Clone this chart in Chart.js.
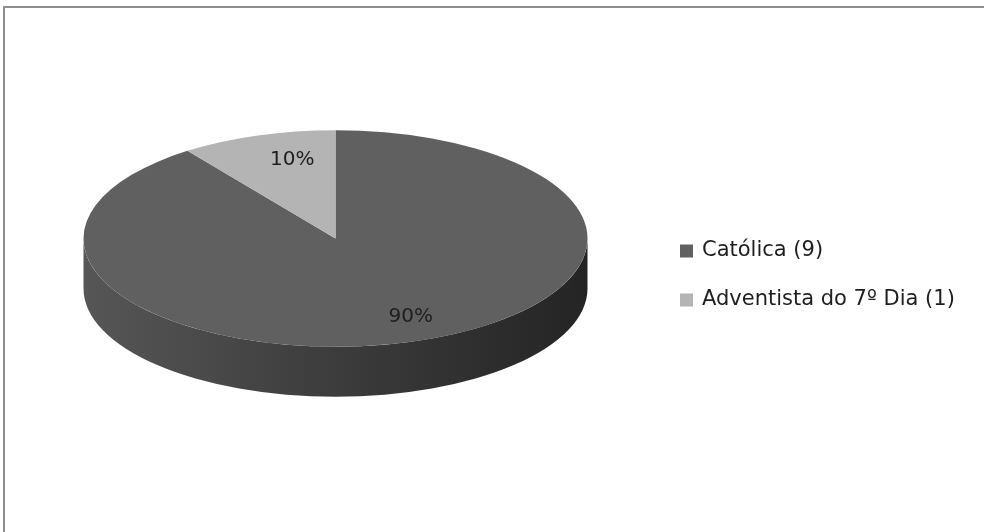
<!DOCTYPE html>
<html>
<head>
<meta charset="utf-8">
<script src="https://cdn.jsdelivr.net/npm/chart.js@4.4.1/dist/chart.umd.min.js"></script>
<style>
  html, body { margin: 0; padding: 0; background: #fff; overflow: hidden; }
  #wrap { position: relative; width: 984px; height: 532px; }
  #frame { position: absolute; left: 3px; top: 6px; width: 1100px; height: 700px; border: 2px solid #8e8e8e; box-sizing: border-box; }
  canvas { position: absolute; left: 0; top: 0; }
</style>
</head>
<body>
<div id="wrap">
  <div id="frame"></div>
  <canvas id="religionChart" width="984" height="532"></canvas>
</div>
<script>
        const categories = ['Católica', 'Adventista do 7º Dia'];
        const counts = [9, 1];
        const sliceColors = ['#606060', '#b4b4b4'];

        const total = counts.reduce((a, b) => a + b, 0);
        const legendLabels = categories.map((c, i) => `${c} (${counts[i]})`);
        const percentLabels = counts.map(v => Math.round(v / total * 100) + '%');

        // look of the fake 3d pie
        const tilt = 0.43;      // vertical squash of the top face
        const depth = 50;       // height of the side wall
        const labelShiftX = 16; // excel's perspective pushes labels a bit right
        const textColor = '#1e1e1e';

        function shade(hex, f) {
            const n = parseInt(hex.slice(1), 16);
            const r = Math.round(((n >> 16) & 255) * f);
            const g = Math.round(((n >> 8) & 255) * f);
            const b = Math.round((n & 255) * f);
            return `rgb(${r},${g},${b})`;
        }

        const pie3d = {
            id: 'pie3d',
            beforeDatasetsDraw(chart) {
                const ctx = chart.ctx;
                const arcs = chart.getDatasetMeta(0).data;
                const { x, y, outerRadius } = arcs[0];
                const ry = outerRadius * tilt;
                arcs.forEach((arc, i) => {
                    for (let k = -1; k <= 1; k++) {
                        const a = Math.max(arc.startAngle, 2 * Math.PI * k);
                        const b = Math.min(arc.endAngle, 2 * Math.PI * k + Math.PI);
                        if (b <= a) continue;
                        const grad = ctx.createLinearGradient(x - outerRadius, 0, x + outerRadius, 0);
                        grad.addColorStop(0, shade(sliceColors[i], 0.9));
                        grad.addColorStop(0.5, shade(sliceColors[i], 0.63));
                        grad.addColorStop(1, shade(sliceColors[i], 0.37));
                        ctx.fillStyle = grad;
                        ctx.beginPath();
                        ctx.ellipse(x, y, outerRadius, ry, 0, a, b);
                        ctx.ellipse(x, y + depth, outerRadius, ry, 0, b, a, true);
                        ctx.closePath();
                        ctx.fill();
                    }
                });
                // squash the flat pie into the top face
                ctx.save();
                ctx.translate(x, y);
                ctx.scale(1, tilt);
                ctx.translate(-x, -y);
            },
            afterDatasetsDraw(chart) {
                const ctx = chart.ctx;
                ctx.restore();
                const arcs = chart.getDatasetMeta(0).data;
                ctx.save();
                ctx.font = '20px "DejaVu Sans"';
                ctx.fillStyle = textColor;
                ctx.textAlign = 'center';
                ctx.textBaseline = 'middle';
                arcs.forEach((arc, i) => {
                    const mid = (arc.startAngle + arc.endAngle) / 2;
                    const r = arc.outerRadius * 0.76;
                    const lx = arc.x + Math.cos(mid) * r + labelShiftX;
                    const ly = arc.y + Math.sin(mid) * r * tilt;
                    ctx.fillText(percentLabels[i], lx, ly);
                });
                ctx.restore();
            },
            afterDraw(chart) {
                // legend on the right
                const ctx = chart.ctx;
                const left = 680, top = 251, rowGap = 49, box = 13;
                ctx.save();
                ctx.font = '21px "DejaVu Sans"';
                ctx.textBaseline = 'middle';
                legendLabels.forEach((label, i) => {
                    const cy = top + i * rowGap;
                    ctx.fillStyle = sliceColors[i];
                    ctx.fillRect(left, cy - box / 2, box, box);
                    ctx.fillStyle = textColor;
                    ctx.fillText(label, left + 22, cy);
                });
                ctx.restore();
            }
        };

        new Chart(document.getElementById('religionChart'), {
            type: 'pie',
            data: {
                labels: legendLabels,
                datasets: [{
                    data: counts,
                    backgroundColor: sliceColors,
                    borderWidth: 0,
                    radius: 252,
                    clip: false
                }]
            },
            options: {
                responsive: false,
                animation: false,
                layout: {
                    padding: { left: 0, right: 313, top: 0, bottom: 55 }
                },
                plugins: {
                    legend: { display: false },
                    tooltip: { enabled: false }
                }
            },
            plugins: [pie3d]
        });
</script>
</body>
</html>
